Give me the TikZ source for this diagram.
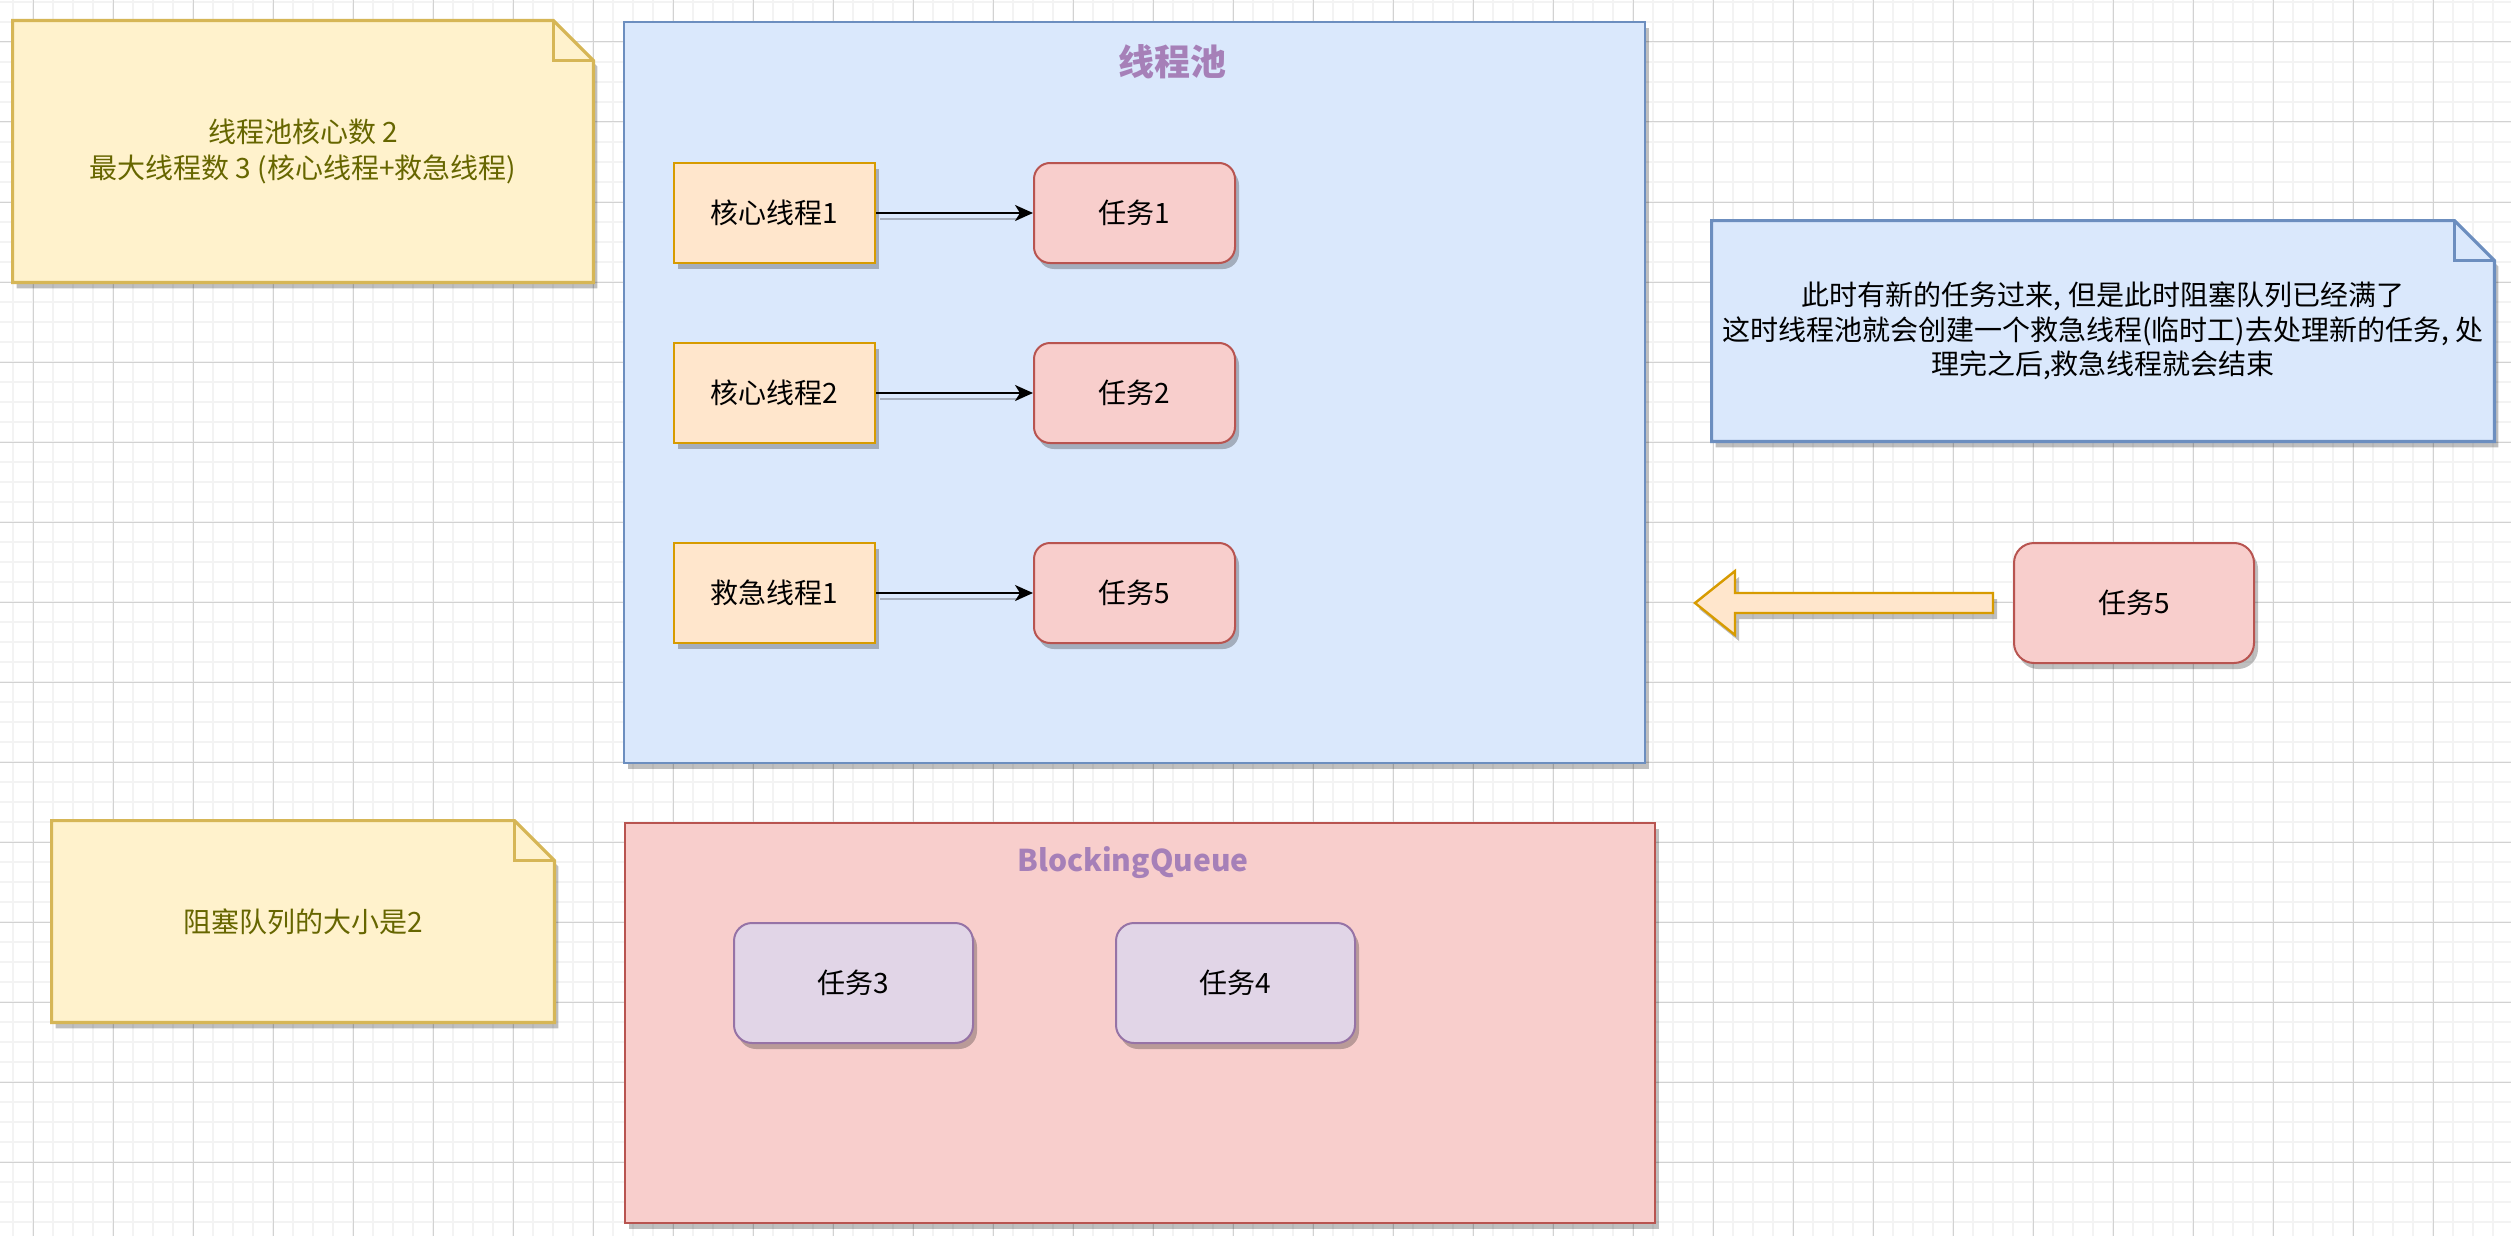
\documentclass[tikz,border=0pt]{standalone}
\usepackage{fontspec}
\setmainfont{Noto Sans CJK SC}
\usetikzlibrary{arrows.meta,shadows}
\definecolor{blueFill}{HTML}{DAE8FC}
\definecolor{blueDraw}{HTML}{6C8EBF}
\definecolor{orFill}{HTML}{FFE6CC}
\definecolor{orDraw}{HTML}{D79B00}
\definecolor{redFill}{HTML}{F8CECC}
\definecolor{redDraw}{HTML}{B85450}
\definecolor{yelFill}{HTML}{FFF2CC}
\definecolor{yelDraw}{HTML}{D6B656}
\definecolor{yelText}{HTML}{666600}
\definecolor{purFill}{HTML}{E1D5E7}
\definecolor{purDraw}{HTML}{9673A6}
\definecolor{titleCol}{HTML}{A680B8}
\definecolor{minorGrid}{HTML}{F3F3F3}
\definecolor{majorGrid}{HTML}{D2D2D2}
\pgfdeclarelayer{gridlayer}
\pgfdeclarelayer{shapelayer}
\pgfsetlayers{gridlayer,shapelayer,main}
\begin{document}
\begin{tikzpicture}[x=0.5pt,y=-0.5pt,
  shad/.style={drop shadow={shadow xshift=2pt,shadow yshift=-3pt,opacity=0.25,fill=black}},
  txt/.style={font=\fontsize{14}{17}\selectfont,align=center,inner sep=0pt},
  box/.style={txt,draw,line width=1pt,shad},
  thread/.style={box,fill=orFill,draw=orDraw,minimum width=100.5pt,minimum height=50pt},
  task/.style={box,fill=redFill,draw=redDraw,rounded corners=8pt,minimum width=100.5pt,minimum height=50pt},
  qtask/.style={box,fill=purFill,draw=purDraw,rounded corners=9pt,minimum width=119.5pt,minimum height=60pt},
  container/.style={draw,line width=1pt,shad,inner sep=0pt},
  notetext/.style={txt,font=\fontsize{14}{18}\selectfont},
  title/.style={font=\bfseries,text=titleCol,inner sep=0pt},
  conn/.style={draw=black,line width=1pt,-{Stealth[length=9pt,width=8pt,inset=2.5pt]}},
  connshadow/.style={draw=black,opacity=0.25,line width=1pt},
  minorline/.style={draw=minorGrid,line width=0.8pt},
  majorline/.style={draw=majorGrid,line width=0.5pt}
]
\useasboundingbox (0,0) rectangle (2511,1236);
\begin{pgfonlayer}{gridlayer}
\fill[white] (0,0) rectangle (2511,1236);
\foreach \x in {13,33,...,2511} \draw[minorline] (\x,0) -- (\x,1236);
\foreach \y in {2,22,...,1236} \draw[minorline] (0,\y) -- (2511,\y);
\foreach \x in {33,113,...,2511} \draw[majorline] (\x,0) -- (\x,1236);
\foreach \y in {42,122,...,1236} \draw[majorline] (0,\y) -- (2511,\y);
\end{pgfonlayer}

% containers
\node[container,fill=blueFill,draw=blueDraw,minimum width=510.5pt,minimum height=370.5pt] (pool) at (1134.5,392.5) {};
\node[title,font=\fontsize{18}{20}\bfseries] (pooltitle) at (1172,62) {线程池};
\node[container,fill=redFill,draw=redDraw,minimum width=515pt,minimum height=200pt] (queue) at (1140,1023) {};
\node[title,font=\fontsize{15}{18}\bfseries] (queuetitle) at (1133,863) {BlockingQueue};

% threads and tasks
\node[thread] (t1) at (774.5,213) {核心线程1};
\node[thread] (t2) at (774.5,393) {核心线程2};
\node[thread] (t3) at (774.5,593) {救急线程1};
\node[task] (k1) at (1134.5,213) {任务1};
\node[task] (k2) at (1134.5,393) {任务2};
\node[task] (k5) at (1134.5,593) {任务5};

\foreach \a/\b in {t1/k1,t2/k2,t3/k5}{
  \draw[connshadow] ([xshift=2pt,yshift=-3pt]\a.east) -- ([xshift=-7pt,yshift=-3pt]\b.west);
  \draw[conn] (\a) -- (\b);
}

% queue tasks
\node[qtask] (k3) at (853.5,983) {任务3};
\node[qtask] (k4) at (1235.5,983) {任务4};

% right task
\node[task,minimum width=120pt,minimum height=60pt,rounded corners=10pt] (k5r) at (2134,603) {任务5};

% big arrow
\coordinate (atip) at (1695,603);
\path[fill=orFill,draw=orDraw,line width=1.2pt,shad,line join=miter]
  (atip) -- ++(40,-32) -- ++(0,22) -- ++(258,0) -- ++(0,20) -- ++(-258,0) -- ++(0,22) -- cycle;

% notes
\node[notetext,text=yelText,minimum width=290pt,minimum height=130.5pt] (n1) at (303,151.5)
  {线程池核心数 2\\最大线程数 3 (核心线程+救急线程)};
\node[notetext,text=black,minimum width=391pt,minimum height=110pt,font=\fontsize{14}{17.3}\selectfont] (n2) at (2103,331)
  {此时有新的任务过来, 但是此时阻塞队列已经满了\\这时线程池就会创建一个救急线程(临时工)去处理新的任务, 处\\理完之后,救急线程就会结束};
\node[notetext,text=yelText,minimum width=251pt,minimum height=100.5pt] (n3) at (303,921.5)
  {阻塞队列的大小是2};

\begin{pgfonlayer}{shapelayer}
\foreach \n/\f/\d in {n1/yelFill/yelDraw,n2/blueFill/blueDraw,n3/yelFill/yelDraw}{
  \path[fill=\f,draw=\d,line width=1.6pt,shad,line join=miter]
    (\n.north west) -- ([xshift=-20pt]\n.north east) -- ([yshift=-20pt]\n.north east)
    -- (\n.south east) -- (\n.south west) -- cycle;
  \draw[draw=\d,line width=1.6pt,line join=miter]
    ([xshift=-20pt]\n.north east) -- ([xshift=-20pt,yshift=-20pt]\n.north east) -- ([yshift=-20pt]\n.north east);
}
\end{pgfonlayer}
\end{tikzpicture}
\end{document}
